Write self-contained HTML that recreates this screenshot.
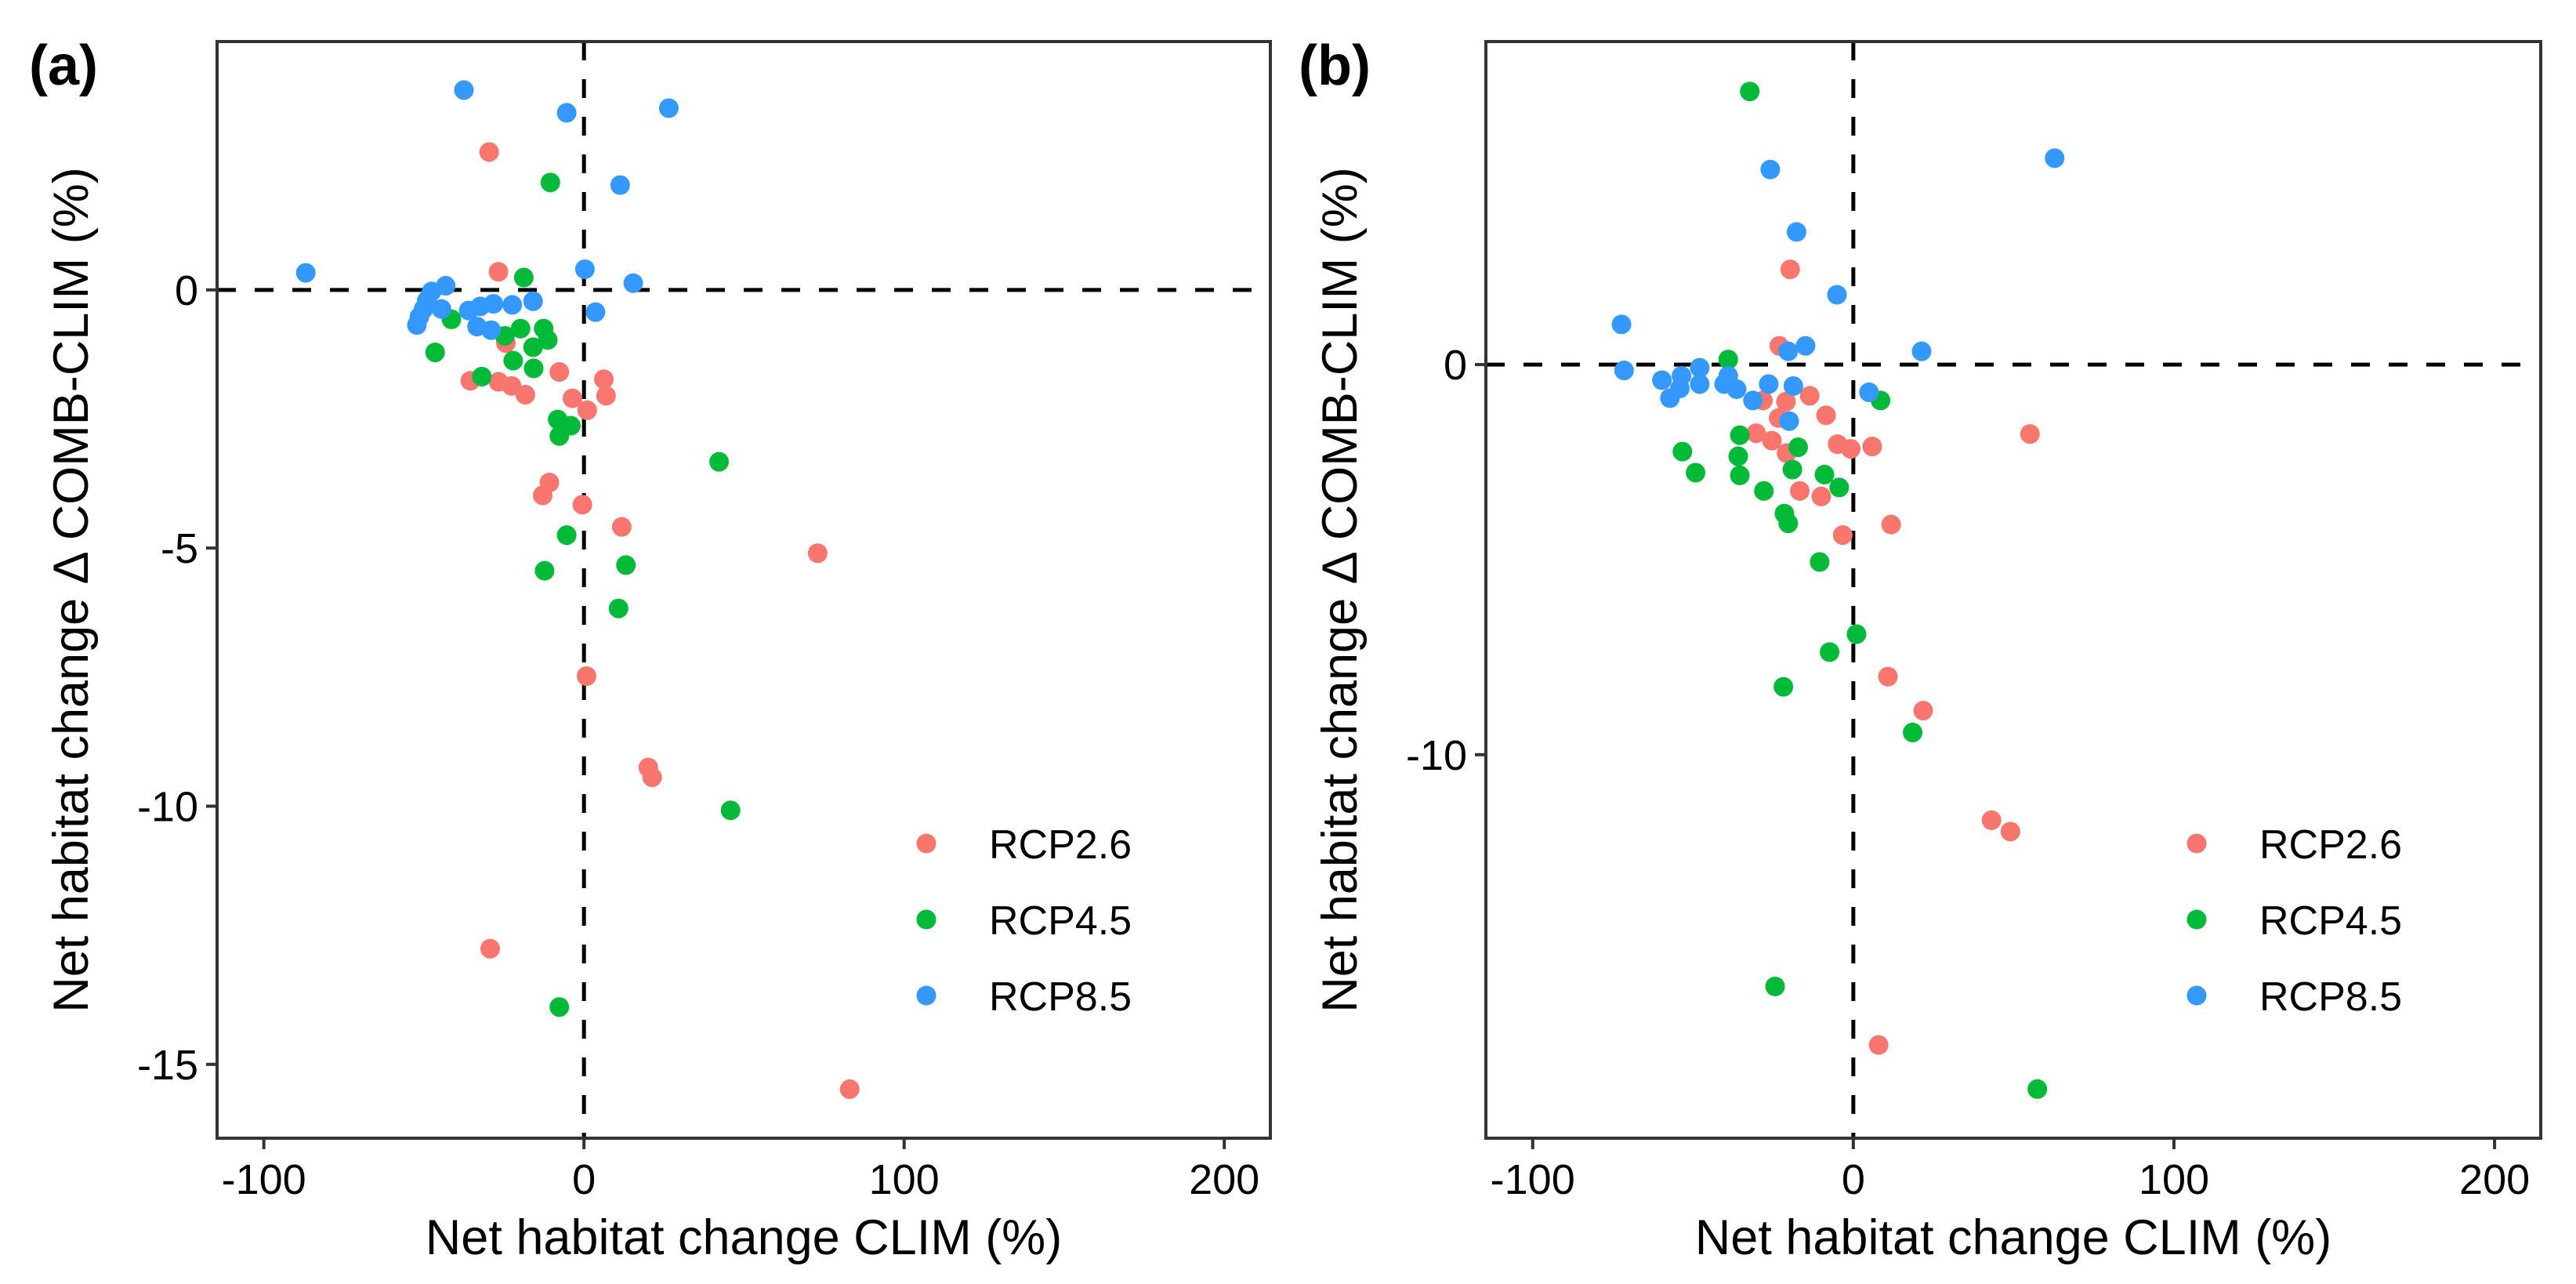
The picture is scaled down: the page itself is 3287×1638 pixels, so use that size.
<!DOCTYPE html>
<html><head><meta charset="utf-8"><style>
html,body{margin:0;padding:0;background:#fff;}
svg{display:block;font-family:"Liberation Sans",Arial,sans-serif;}
</style></head><body>
<svg id="fig" width="3287" height="1638" viewBox="0 0 3287 1638" xmlns="http://www.w3.org/2000/svg"></svg>
<script>
// ---- Panel (a) data ----
const aRcp26X = [-29.6,-26.7,-24.4,-35.5,-26.7,-22.6,-18.3,-7.7,-3.6,1.0,6.2,6.9,-10.8,-12.9,-0.5,11.8,73.0,0.8,20.1,21.3,-29.3,83.0];
const aRcp26Y = [2.67,0.35,-1.03,-1.76,-1.78,-1.86,-2.03,-1.59,-2.10,-2.33,-1.73,-2.05,-3.73,-3.98,-4.16,-4.59,-5.10,-7.48,-9.25,-9.44,-12.76,-15.48];
const aRcp45X = [-10.5,-18.8,-41.4,-46.5,-31.9,-24.7,-19.8,-12.6,-11.3,-15.9,-22.1,-15.7,-8.2,-4.1,-7.7,42.2,-5.4,-12.3,13.1,10.8,45.8,-7.7];
const aRcp45Y = [2.08,0.24,-0.57,-1.21,-1.68,-0.89,-0.75,-0.75,-0.97,-1.11,-1.37,-1.52,-2.51,-2.63,-2.83,-3.33,-4.75,-5.44,-5.33,-6.17,-10.08,-13.89];
const aRcp85X = [-37.5,-5.4,26.5,11.3,-86.9,0.3,15.4,3.6,-43.2,-47.6,-49.1,-50.1,-51.4,-52.2,-44.5,-36.0,-32.4,-28.3,-22.4,-15.9,-33.4,-29.0];
const aRcp85Y = [3.87,3.43,3.52,2.03,0.33,0.40,0.13,-0.43,0.08,-0.03,-0.21,-0.37,-0.52,-0.68,-0.37,-0.40,-0.32,-0.27,-0.29,-0.22,-0.71,-0.78];
const aYTicks = [0,-5,-10,-15];
// ---- Panel (b) data ----
const bRcp26X = [-19.7,-23.1,-28.2,-21.0,-13.6,-23.3,-8.5,-30.3,-25.4,-20.8,-4.9,-0.8,5.9,55.1,-16.7,-10.0,-3.3,11.8,10.8,21.8,43.1,49.0,7.9];
const bRcp26Y = [2.44,0.48,-0.92,-0.95,-0.80,-1.37,-1.30,-1.76,-1.95,-2.27,-2.04,-2.16,-2.10,-1.78,-3.24,-3.38,-4.37,-4.10,-8.00,-8.87,-11.68,-11.97,-17.44];
const bRcp45X = [-32.3,-39.0,8.5,-35.4,-53.3,-35.9,-49.2,-35.4,-27.9,-17.2,-19.0,-9.0,-4.4,-21.5,-20.3,-10.5,1.0,-7.4,-21.8,18.5,-24.4,57.4];
const bRcp45Y = [7.00,0.13,-0.92,-1.81,-2.23,-2.35,-2.77,-2.84,-3.24,-2.12,-2.69,-2.82,-3.15,-3.82,-4.07,-5.06,-6.91,-7.37,-8.26,-9.43,-15.94,-18.57];
const bRcp85X = [-72.3,-71.5,-59.7,-57.2,-54.1,-53.6,-47.9,-47.9,-40.3,-39.0,-36.4,-31.3,-26.4,-20.3,-14.9,-20.0,-18.7,-5.1,-17.7,-25.9,62.8,21.3,4.9];
const bRcp85Y = [1.03,-0.15,-0.40,-0.86,-0.61,-0.29,-0.08,-0.50,-0.50,-0.29,-0.63,-0.92,-0.50,0.34,0.48,-1.45,-0.55,1.79,3.40,5.00,5.29,0.34,-0.71];
const bYTicks = [0,-10];
const xTicks = [-100,0,100,200];
const seriesNames = ["RCP2.6","RCP4.5","RCP8.5"];
const seriesColors = ["#F8766D","#00BA38","#3399FF"];

const NS="http://www.w3.org/2000/svg";
const svg=document.getElementById('fig');
function mk(tag,attrs,parent){const e=document.createElementNS(NS,tag);for(const k in attrs)e.setAttribute(k,attrs[k]);(parent||svg).appendChild(e);return e;}

function panel(cfg){
  const g=mk('g',{});
  
  
  const L=cfg.left,R=cfg.right,T=53,B=1452;
  const xmin=-114.6,xmax=214.4;
  const sx=v=>L+(v-xmin)/(xmax-xmin)*(R-L);
  const sy=v=>T+(cfg.ymax-v)/(cfg.ymax-cfg.ymin)*(B-T);
  // dashed reference lines
  const h=mk('line',{x1:L,x2:R,y1:sy(0),y2:sy(0),stroke:'#000','stroke-width':5,'stroke-dasharray':'24 24'},g);
  
  
  const v=mk('line',{x1:sx(0),x2:sx(0),y1:T,y2:B,stroke:'#000','stroke-width':5,'stroke-dasharray':'24 24'},g);
  
  
  // points
  for(let s=0;s<3;s++){
    const xs=cfg.xs[s],ys=cfg.ys[s];
    for(let i=0;i<xs.length;i++){
      const c=mk('circle',{cx:sx(xs[i]),cy:sy(ys[i]),r:12.5,fill:seriesColors[s]},g);
      
      
    }
  }
  // frame
  const f=mk('rect',{x:L,y:T,width:R-L,height:B-T,fill:'none',stroke:'#333','stroke-width':4},g);
  
  
  // x ticks
  xTicks.forEach(t=>{
    const x=sx(t);
    const tk=mk('line',{x1:x,x2:x,y1:B,y2:B+14,stroke:'#333','stroke-width':4},g);
    
    
    const tx=mk('text',{x:x,y:B+71,'text-anchor':'middle','font-size':54,fill:'#000'},g);
    tx.textContent=t;
    
    
  });
  cfg.yTicks.forEach(t=>{
    const y=sy(t);
    const tk=mk('line',{x1:L-14,x2:L,y1:y,y2:y,stroke:'#333','stroke-width':4},g);
    
    
    const tx=mk('text',{x:L-24,y:y+19,'text-anchor':'end','font-size':54,fill:'#000'},g);
    tx.textContent=t;
    
    
  });
  // axis titles
  const xt=mk('text',{x:(L+R)/2,y:1600,'text-anchor':'middle','font-size':63,fill:'#000'},g);
  xt.textContent='Net habitat change CLIM (%)';
  
  
  const cy=(T+B)/2;
  const yt=mk('text',{x:cfg.ytx,y:cy,'text-anchor':'middle','font-size':63,fill:'#000',transform:`rotate(-90 ${cfg.ytx} ${cy})`},g);
  yt.textContent='Net habitat change \u0394 COMB-CLIM (%)';
  
  
  // panel label
  const pl=mk('text',{x:cfg.labx,y:108,'font-size':72,'font-weight':'bold',fill:'#000'},g);
  pl.textContent=cfg.label;
  
  
  // legend
  const lg=mk('g',{},g);
  
  
  for(let s=0;s<3;s++){
    const ly=1076+s*97;
    const c=mk('circle',{cx:cfg.legx,cy:ly,r:12.5,fill:seriesColors[s]},lg);
    
    
    const t=mk('text',{x:cfg.legx+80,y:ly+19,'font-size':52,fill:'#000'},lg);
    t.textContent=seriesNames[s];
    
    
  }
}
panel({name:'panel-a',left:277,right:1621,ymin:-16.43,ymax:4.81,yTicks:aYTicks,
  xs:[aRcp26X,aRcp45X,aRcp85X],ys:[aRcp26Y,aRcp45Y,aRcp85Y],ytx:112,labx:37,label:'(a)',legx:1182});
panel({name:'panel-b',left:1896,right:3242,ymin:-19.83,ymax:8.28,yTicks:bYTicks,
  xs:[bRcp26X,bRcp45X,bRcp85X],ys:[bRcp26Y,bRcp45Y,bRcp85Y],ytx:1731,labx:1657,label:'(b)',legx:2803});
</script>
</body></html>
